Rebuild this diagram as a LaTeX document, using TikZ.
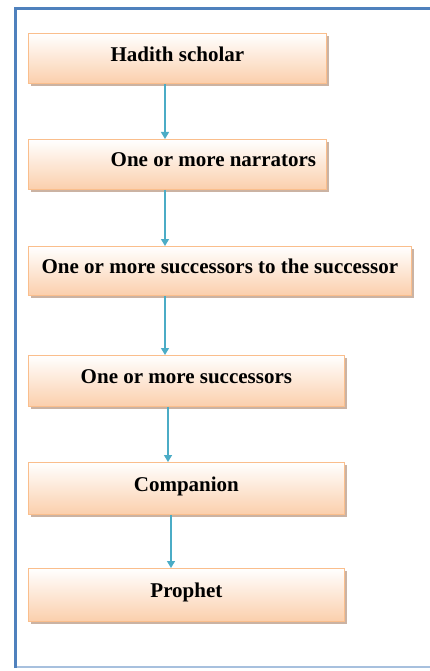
\documentclass[tikz,border=0pt]{standalone}
\usepackage{fontspec}
\setmainfont{Liberation Serif}
\usetikzlibrary{shadows,arrows.meta}
\definecolor{frameblue}{RGB}{79,129,189}
\definecolor{framelight}{RGB}{167,192,222}
\definecolor{peach}{RGB}{251,207,172}
\definecolor{peachline}{RGB}{250,190,140}
\definecolor{arrowaqua}{RGB}{75,172,198}
\definecolor{shadowtone}{RGB}{190,160,140}
\tikzset{
  flowbox/.style={draw=peachline, line width=0.8pt, top color=white, bottom color=peach,
    anchor=north west, minimum height=50pt, inner sep=0pt, text depth=9pt,
    font=\fontsize{21}{25}\selectfont\bfseries,
    drop shadow={shadow xshift=3pt, shadow yshift=-3pt, fill=shadowtone, opacity=0.8}},
  flowarrow/.style={draw=arrowaqua, line width=1.4pt, -{Triangle[length=7pt,width=8pt]}}
}
\begin{document}
\begin{tikzpicture}[x=1pt,y=-1pt]
\useasboundingbox (0,0) rectangle (430,671);
\fill[white] (0,0) rectangle (430,671);
% frame
\draw[framelight, line width=1.2pt] (15,667) -- (440,667);
\draw[frameblue, line width=3pt] (15,668) -- (15,9) -- (440,9);
% boxes
\node[flowbox, minimum width=298pt] (b1) at (28,33) {Hadith scholar};
\node[flowbox, minimum width=298pt] (b2) at (28,139) {\hspace*{72pt}One or more narrators};
\node[flowbox, minimum width=383pt, minimum height=49pt] (b3) at (28,246) {One or more successors to the successor};
\node[flowbox, minimum width=316pt, minimum height=51pt] (b4) at (28,355) {One or more successors};
\node[flowbox, minimum width=316pt, minimum height=52pt] (b5) at (28,462) {Companion};
\node[flowbox, minimum width=316pt, minimum height=53pt] (b6) at (28,568) {Prophet};
% arrows
\coordinate (x1) at (165,0);
\coordinate (x4) at (168,0);
\coordinate (x5) at (171,0);
\draw[flowarrow] (b1.south -| x1) -- (b2.north -| x1);
\draw[flowarrow] (b2.south -| x1) -- (b3.north -| x1);
\draw[flowarrow] (b3.south -| x1) -- (b4.north -| x1);
\draw[flowarrow] (b4.south -| x4) -- (b5.north -| x4);
\draw[flowarrow] (b5.south -| x5) -- (b6.north -| x5);
\end{tikzpicture}
\end{document}
